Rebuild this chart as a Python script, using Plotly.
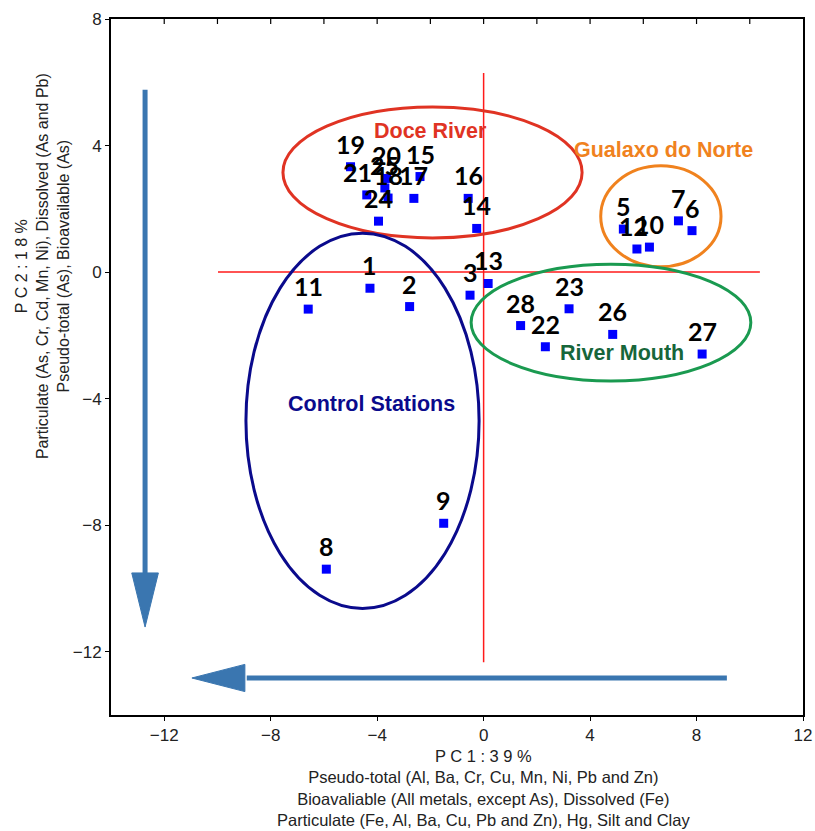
import plotly.graph_objects as go

# ---- data ----
stations = ["1", "2", "3", "5", "6", "7", "8", "9", "10", "11", "12", "13", "14",
            "15", "16", "17", "18", "19", "20", "21", "22", "23", "24", "25",
            "26", "27", "28"]
pc1 = [-4.27, -2.78, -0.51, 5.25, 7.83, 7.32, -5.91, -1.50, 6.23, -6.59, 5.76, 0.17, -0.26,
       -2.39, -0.58, -2.62, -3.59, -5.00, -3.64, -4.39, 2.32, 3.21, -3.95, -3.71,
       4.85, 8.21, 1.39]
pc2 = [-0.51, -1.09, -0.73, 1.36, 1.31, 1.62, -9.39, -7.94, 0.79, -1.17, 0.73, -0.36, 1.38,
       3.02, 2.33, 2.33, 2.34, 3.33, 2.96, 2.44, -2.36, -1.16, 1.61, 2.66,
       -1.97, -2.59, -1.69]

x_ticks = [-12, -8, -4, 0, 4, 8, 12]
y_ticks = [-12, -8, -4, 0, 4, 8]
x_top_ticks = [-12, -10, -8, -6, -4, -2, 0, 2, 4, 6, 8, 10]

x_title = ["P C 1 : 3 9 %",
           "Pseudo-total (Al, Ba, Cr, Cu, Mn, Ni, Pb and Zn)",
           "Bioavaliable (All metals, except As), Dissolved (Fe)",
           "Particulate (Fe, Al, Ba, Cu, Pb and Zn), Hg, Silt and Clay"]
y_title = ["P C 2 : 1 8 %",
           "Particulate (As, Cr, Cd, Mn, Ni), Dissolved (As and Pb)",
           "Pseudo-total (As), Bioavailable (As)"]

groups = ["Doce River", "Gualaxo do Norte", "River Mouth", "Control Stations"]
group_colors = ["#e03323", "#f0821e", "#1a9a50", "#0a0a8c"]
group_text_colors = ["#e03323", "#f0821e", "#17663a", "#0a0a8c"]
group_boxes = [(-7.54, 3.70, 1.08, 5.22), (4.40, 8.92, 0.17, 3.36),
               (-0.47, 10.04, -3.44, 0.25), (-8.93, -0.17, -10.63, 1.23)]
group_label_xy = [(-1.98, 4.46), (6.74, 3.86), (5.20, -2.56), (-4.23, -4.17)]

fig = go.Figure()
fig.add_trace(go.Scatter(
    x=pc1, y=pc2, mode="markers",
    marker=dict(symbol="square", size=9, color="#0000ff"),
    showlegend=False, cliponaxis=False,
))

annotations = []
label_xshift = {"21": -9, "12": -3}
for s, px, py in zip(stations, pc1, pc2):
    annotations.append(dict(x=px, y=py, xref="x", yref="y", text=s, showarrow=False,
                            yshift=23, xshift=label_xshift.get(s, 0),
                            font=dict(family="Lato, Carlito, sans-serif", size=25,
                                      color="black", weight="bold")))

shapes = []
shapes.append(dict(type="line", xref="x", yref="y", x0=0, x1=0, y0=-12.33, y1=6.29,
                   line=dict(color="#ff1a1a", width=1.5), layer="below"))
shapes.append(dict(type="line", xref="x", yref="y", x0=-9.98, x1=10.38, y0=0, y1=0,
                   line=dict(color="#ff1a1a", width=1.5), layer="below"))
for (x0, x1, y0, y1), c in zip(group_boxes, group_colors):
    shapes.append(dict(type="circle", xref="x", yref="y", x0=x0, x1=x1, y0=y0, y1=y1,
                       line=dict(color=c, width=3)))
arrow_c = "#3a76b0"
shapes.append(dict(type="line", xref="x", yref="y", x0=-12.72, x1=-12.72, y0=5.76, y1=-9.6,
                   line=dict(color=arrow_c, width=5)))
shapes.append(dict(type="path", xref="x", yref="y",
                   path="M -13.22,-9.51 L -12.22,-9.51 L -12.72,-11.22 Z",
                   fillcolor=arrow_c, line=dict(color=arrow_c, width=1)))
shapes.append(dict(type="line", xref="x", yref="y", x0=9.14, x1=-8.9, y0=-12.83, y1=-12.83,
                   line=dict(color=arrow_c, width=5)))
shapes.append(dict(type="path", xref="x", yref="y",
                   path="M -8.97,-12.40 L -8.97,-13.26 L -10.96,-12.83 Z",
                   fillcolor=arrow_c, line=dict(color=arrow_c, width=1)))
# short inward ticks along the top frame
for tx in x_top_ticks:
    shapes.append(dict(type="line", xref="x", yref="paper", x0=tx, x1=tx, y0=1, y1=1 - 5 / 696,
                       line=dict(color="black", width=1.2)))

for g, (gx, gy), c in zip(groups, group_label_xy, group_text_colors):
    annotations.append(dict(x=gx, y=gy, xref="x", yref="y", text="<b>" + g + "</b>",
                            showarrow=False,
                            font=dict(family="Liberation Sans, Arial, sans-serif", size=21.5,
                                      color=c)))

annotations.append(dict(x=0.5385, y=-0.0435, xref="paper", yref="paper", xanchor="center",
                        yanchor="top", text="<br>".join(x_title), showarrow=False,
                        font=dict(family="Liberation Sans, Arial, sans-serif", size=16.5,
                                  color="#222222"), align="center"))
annotations.append(dict(x=-0.0997, y=0.645, xref="paper", yref="paper", xanchor="center",
                        yanchor="middle", text="<br>".join(y_title), showarrow=False,
                        textangle=-90,
                        font=dict(family="Liberation Sans, Arial, sans-serif", size=16,
                                  color="#222222"), align="center"))

axis_common = dict(showgrid=False, zeroline=False, showline=True, linecolor="black",
                   linewidth=2, mirror=True, ticks="outside", ticklen=4, tickcolor="black",
                   automargin=False,
                   tickfont=dict(family="Liberation Sans, Arial, sans-serif", size=17,
                                 color="#222222"))
fig.update_layout(
    width=815, height=831,
    margin=dict(l=111, r=12, t=19, b=116, autoexpand=False),
    paper_bgcolor="white", plot_bgcolor="white",
    xaxis=dict(range=[-14, 12], tickvals=x_ticks, **axis_common),
    yaxis=dict(range=[-14, 8], tickvals=y_ticks, **axis_common),
    shapes=shapes, annotations=annotations,
)

fig.write_html("out.html", config={"displayModeBar": False},
               post_script="document.body.style.margin='0';document.body.style.overflow='hidden';")
